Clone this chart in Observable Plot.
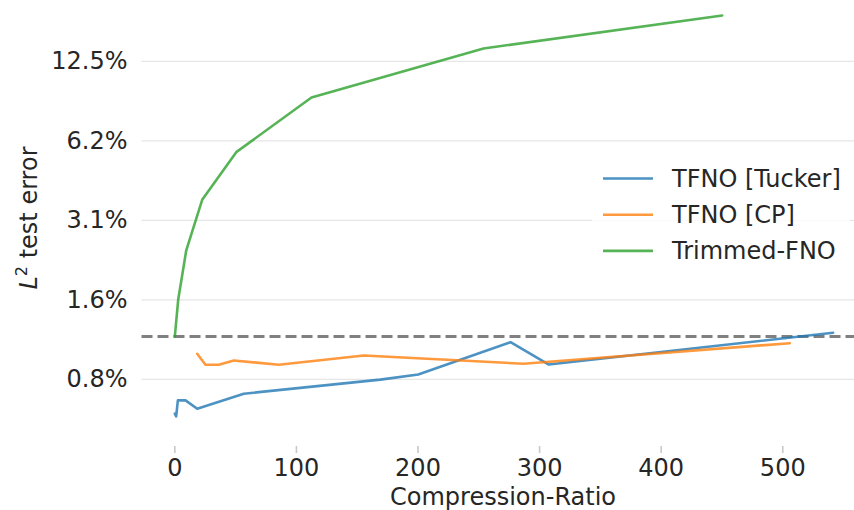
<!DOCTYPE html>
<html>
<head>
<meta charset="utf-8">
<script src="https://cdn.jsdelivr.net/npm/d3@7"></script>
<script src="https://cdn.jsdelivr.net/npm/@observablehq/plot@0.6"></script>
<style>
  html, body { margin: 0; padding: 0; background: #fff; }
  #chart { width: 854px; height: 510px; overflow: hidden; }
</style>
</head>
<body>
<div id="chart"></div>
<script>
// ---- data ----
const seriesNames = ["TFNO [Tucker]", "TFNO [CP]", "Trimmed-FNO"];
const seriesColors = ["#1f77b4", "#ff7f0e", "#2ca02c"];

const tuckerX = [0, 1.1, 2.5, 8.8, 18.4, 56.7, 169, 200.2, 276.1, 307.6, 541.4];
const tuckerY = [0.58, 0.566, 0.651, 0.651, 0.605, 0.690, 0.78, 0.816, 1.081, 0.890, 1.174];

const cpX = [18.4, 25.2, 36.2, 48.5, 85.5, 155.4, 286.8, 505.8];
const cpY = [0.977, 0.888, 0.888, 0.922, 0.888, 0.963, 0.896, 1.072];

const trimmedX = [0, 2.8, 9.4, 22.5, 50.5, 112.4, 253.9, 450.2];
const trimmedY = [1.137, 1.57, 2.41, 3.74, 5.67, 9.13, 14.0, 18.67];

const baselineY = [1.137];

const xTicks = [0, 100, 200, 300, 400, 500];
const yTicks = [0.78125, 1.5625, 3.125, 6.25, 12.5];
const yTickLabels = ["0.8%", "1.6%", "3.1%", "6.2%", "12.5%"];

// ---- build tables ----
const toRows = (xs, ys, name) => xs.map((x, i) => ({x, y: ys[i], name}));
const rows = [
  ...toRows(tuckerX, tuckerY, seriesNames[0]),
  ...toRows(cpX, cpY, seriesNames[1]),
  ...toRows(trimmedX, trimmedY, seriesNames[2])
];
const yLabelMap = new Map(yTicks.map((t, i) => [t, yTickLabels[i]]));

const FONT = "'DejaVu Sans', 'Liberation Sans', sans-serif";

const chart = Plot.plot({
  width: 854,
  height: 510,
  marginLeft: 141.5,
  marginRight: 0,
  marginTop: 0,
  marginBottom: 64,
  style: {fontFamily: FONT, fontSize: "24px", color: "#262626", background: "#fff", overflow: "visible"},
  x: {domain: [-27, 559]},
  y: {type: "log", base: 2, domain: [0.4355, 21.27]},
  color: {domain: seriesNames, range: seriesColors},
  marks: [
    Plot.ruleY(yTicks, {stroke: "#e6e6e6", strokeWidth: 1.3}),
    Plot.axisX(xTicks, {tickSize: 7, tickPadding: 5.5, stroke: "#c8c8c8", strokeWidth: 1.6, fill: "#262626", label: null, fontSize: 24}),
    Plot.axisY(yTicks, {tickSize: 0, tickPadding: 14.5, tickFormat: d => yLabelMap.get(d), fill: "#262626", label: null, fontSize: 24}),
    Plot.ruleY(baselineY, {stroke: "#808080", strokeWidth: 3, strokeDasharray: "11,5"}),
    Plot.line(rows, {x: "x", y: "y", z: "name", stroke: "name", strokeOpacity: 0.8, strokeWidth: 2.6})
  ]
});

document.getElementById("chart").appendChild(chart);

// ---- axis titles & legend ----
const svg = d3.select(chart);

svg.append("text")
  .attr("x", 503).attr("y", 497)
  .attr("text-anchor", "middle").attr("dominant-baseline", "central")
  .attr("fill", "#262626").style("font-family", FONT).style("font-size", "24px")
  .text("Compression-Ratio");

const yl = svg.append("text")
  .attr("transform", "translate(37,218) rotate(-90)")
  .attr("text-anchor", "middle")
  .attr("fill", "#262626").style("font-family", FONT).style("font-size", "24px");
yl.append("tspan").style("font-style", "italic").text("L");
yl.append("tspan").attr("dy", -10).style("font-size", "16px").text("2");
yl.append("tspan").attr("dy", 10).text(" test error");

const lg = svg.append("g");
lg.append("rect").attr("x", 592).attr("y", 156).attr("width", 258).attr("height", 116)
  .attr("rx", 5).attr("fill", "#fff").attr("fill-opacity", 0.8);
seriesNames.forEach((name, i) => {
  const cy = 178.5 + i * 36.2;
  lg.append("line").attr("x1", 603).attr("x2", 653).attr("y1", cy).attr("y2", cy)
    .attr("stroke", seriesColors[i]).attr("stroke-opacity", 0.8).attr("stroke-width", 2.6);
  lg.append("text").attr("x", 672).attr("y", cy)
    .attr("text-anchor", "start")
    .attr("dominant-baseline", "central").attr("fill", "#262626")
    .style("font-family", FONT).style("font-size", "24px").text(name);
});
</script>
</body>
</html>
